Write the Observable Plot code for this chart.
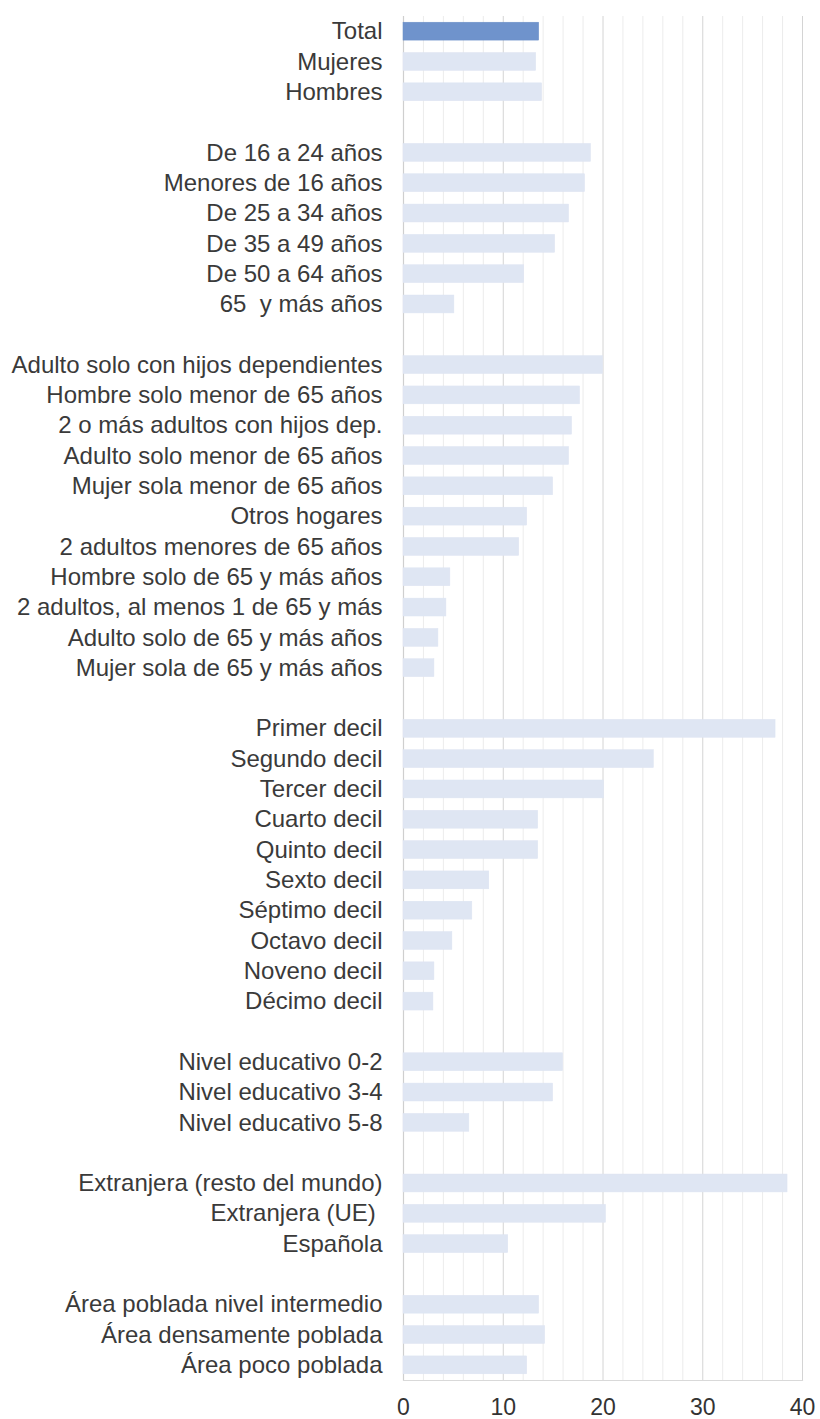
<!DOCTYPE html>
<html>
<head>
<meta charset="utf-8">
<script src="https://cdn.jsdelivr.net/npm/d3@7"></script>
<script src="https://cdn.jsdelivr.net/npm/@observablehq/plot@0.6"></script>
<style>
  html, body { margin: 0; padding: 0; background: #fff; }
  #chart svg { display: block; }
</style>
</head>
<body>
<div id="chart"></div>
<script>
// --- Data ---
const sexCategories = ["Total", "Mujeres", "Hombres"];
const sexValues = [13.6, 13.3, 13.9];

const ageCategories = ["De 16 a 24 años", "Menores de 16 años", "De 25 a 34 años", "De 35 a 49 años", "De 50 a 64 años", "65  y más años"];
const ageValues = [18.8, 18.2, 16.6, 15.2, 12.1, 5.1];

const householdCategories = ["Adulto solo con hijos dependientes", "Hombre solo menor de 65 años", "2 o más adultos con hijos dep.", "Adulto solo menor de 65 años", "Mujer sola menor de 65 años", "Otros hogares", "2 adultos menores de 65 años", "Hombre solo de 65 y más años", "2 adultos, al menos 1 de 65 y más", "Adulto solo de 65 y más años", "Mujer sola de 65 y más años"];
const householdValues = [20.0, 17.7, 16.9, 16.6, 15.0, 12.4, 11.6, 4.7, 4.3, 3.5, 3.1];

const decileCategories = ["Primer decil", "Segundo decil", "Tercer decil", "Cuarto decil", "Quinto decil", "Sexto decil", "Séptimo decil", "Octavo decil", "Noveno decil", "Décimo decil"];
const decileValues = [37.3, 25.1, 20.1, 13.5, 13.5, 8.6, 6.9, 4.9, 3.1, 3.0];

const educationCategories = ["Nivel educativo 0-2", "Nivel educativo 3-4", "Nivel educativo 5-8"];
const educationValues = [16.0, 15.0, 6.6];

const nationalityCategories = ["Extranjera (resto del mundo)", "Extranjera (UE) ", "Española"];
const nationalityValues = [38.5, 20.3, 10.5];

const areaCategories = ["Área poblada nivel intermedio", "Área densamente poblada", "Área poco poblada"];
const areaValues = [13.6, 14.2, 12.4];

const xTicks = [0, 10, 20, 30, 40];
const minorTicks = [2, 4, 6, 8, 12, 14, 16, 18, 22, 24, 26, 28, 32, 34, 36, 38];
const majorTicks = [10, 20, 30, 40];

// --- Build rows (blank row between groups) ---
const groups = [
  [sexCategories, sexValues],
  [ageCategories, ageValues],
  [householdCategories, householdValues],
  [decileCategories, decileValues],
  [educationCategories, educationValues],
  [nationalityCategories, nationalityValues],
  [areaCategories, areaValues]
];
const rows = [];
groups.forEach(([cats, vals], gi) => {
  if (gi > 0) rows.push({idx: rows.length, label: "", value: null});
  cats.forEach((c, i) => rows.push({idx: rows.length, label: c, value: vals[i]}));
});
const labelOf = new Map(rows.map(r => [r.idx, r.label]));
const bars = rows.filter(r => r.value != null);

const chart = Plot.plot({
  width: 820,
  height: 1419,
  marginTop: 16,
  marginBottom: 39,
  marginLeft: 403,
  marginRight: 18,
  style: {fontFamily: "Liberation Sans, Arial, sans-serif", color: "#404040", background: "#fff"},
  x: {domain: [0, 40], ticks: xTicks, label: null},
  y: {domain: rows.map(r => r.idx), paddingInner: 0.41, paddingOuter: 0.205, round: false, label: null},
  marks: [
    Plot.ruleX(minorTicks, {stroke: "#ececec", strokeWidth: 1}),
    Plot.ruleX(majorTicks, {stroke: "#d4d4d4", strokeWidth: 1}),
    Plot.frame({anchor: "bottom", stroke: "#d9d9d9", strokeWidth: 1.2}),
    Plot.ruleX([0], {stroke: "#cfcfcf", strokeWidth: 1.2}),
    Plot.barX(bars, {
      x: "value",
      y: "idx",
      fill: d => d.label === "Total" ? "#6f93cc" : "#dfe6f3",
      stroke: d => d.label === "Total" ? "#6a8ec8" : "#dde4f2",
      strokeWidth: 0.5
    }),
    Plot.axisY({
      tickSize: 0,
      tickPadding: 21,
      tickFormat: d => labelOf.get(d),
      fontSize: 24,
      fill: "#3a3a3a"
    }),
    Plot.axisX(xTicks, {
      tickSize: 0,
      tickPadding: 18,
      fontSize: 23,
      fill: "#333",
      label: null
    })
  ]
});
document.getElementById("chart").appendChild(chart);
</script>
</body>
</html>
